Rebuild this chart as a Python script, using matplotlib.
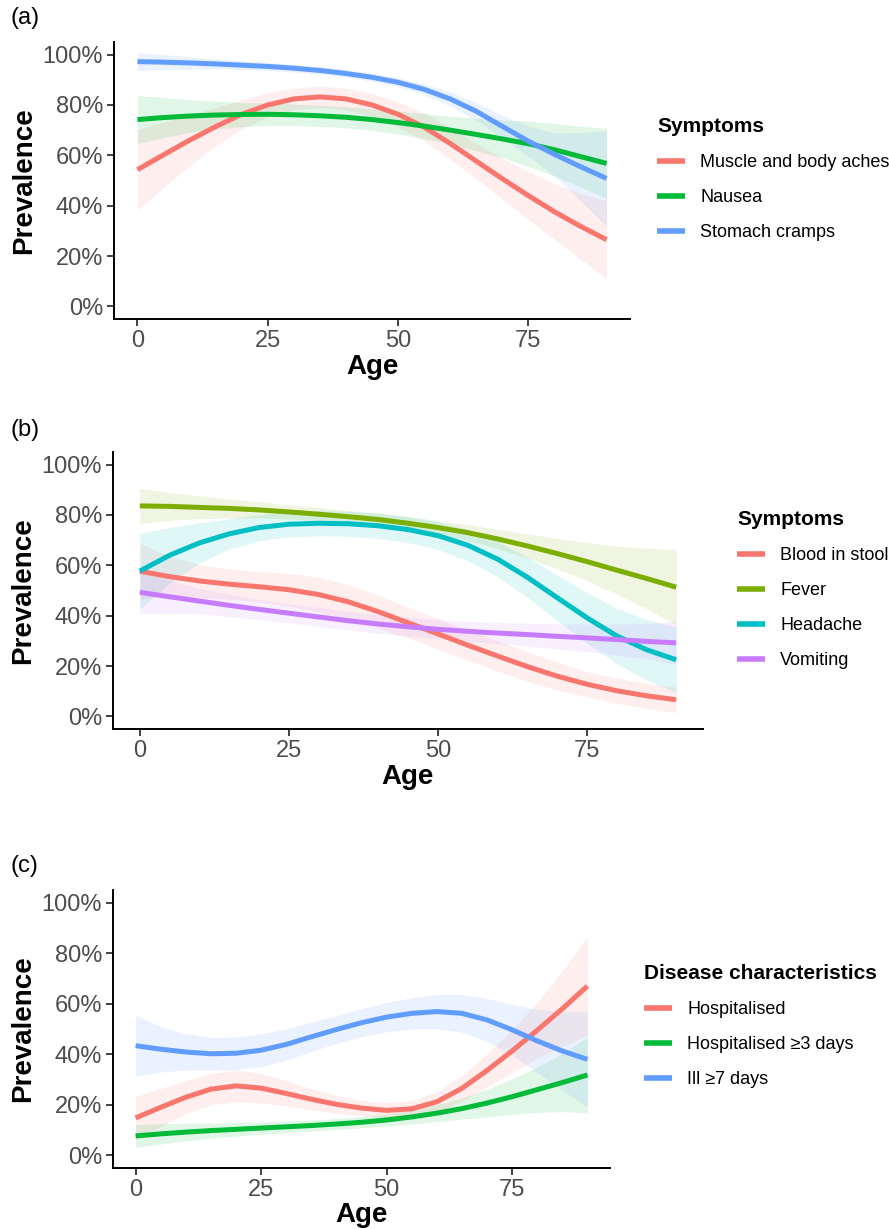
import numpy as np
import matplotlib
matplotlib.use("Agg")
import matplotlib.pyplot as plt

plt.rcParams["font.family"] = ["Liberation Sans", "DejaVu Sans"]

W, H = 889, 1229

# ── DATA (smoothed prevalence, every 5 years) ──
AGE = np.arange(0, 95, 5)

# (a) symptoms
A_NAMES = ["Muscle and body aches", "Nausea", "Stomach cramps"]
A_MUSCLE = [0.543, 0.602, 0.66, 0.714, 0.763, 0.80, 0.824, 0.832, 0.824, 0.80,
            0.763, 0.712, 0.647, 0.577, 0.507, 0.44, 0.376, 0.318, 0.265]
A_MUSCLE_SE = [0.16, 0.13, 0.10, 0.075, 0.058, 0.048, 0.043, 0.042, 0.043, 0.045,
               0.05, 0.055, 0.063, 0.07, 0.08, 0.095, 0.11, 0.13, 0.155]
A_NAUSEA = [0.742, 0.750, 0.756, 0.760, 0.762, 0.763, 0.761, 0.757, 0.751, 0.742,
            0.730, 0.716, 0.700, 0.683, 0.665, 0.646, 0.622, 0.595, 0.568]
A_NAUSEA_SE = [0.095, 0.08, 0.065, 0.055, 0.048, 0.045, 0.043, 0.042, 0.042, 0.043,
               0.045, 0.05, 0.055, 0.065, 0.075, 0.09, 0.105, 0.12, 0.14]
A_CRAMPS = [0.972, 0.970, 0.967, 0.963, 0.958, 0.953, 0.946, 0.937, 0.925, 0.91,
            0.89, 0.862, 0.824, 0.775, 0.715, 0.656, 0.604, 0.555, 0.508]
A_CRAMPS_SE = [0.035, 0.03, 0.025, 0.02, 0.018, 0.016, 0.015, 0.015, 0.015, 0.016,
               0.018, 0.022, 0.028, 0.035, 0.045, 0.06, 0.085, 0.135, 0.19]

# (b) symptoms
B_NAMES = ["Blood in stool", "Fever", "Headache", "Vomiting"]
B_BLOOD = [0.577, 0.555, 0.538, 0.525, 0.515, 0.503, 0.484, 0.455, 0.416, 0.372,
           0.328, 0.283, 0.24, 0.198, 0.16, 0.128, 0.102, 0.082, 0.066]
B_BLOOD_SE = [0.11, 0.08, 0.065, 0.06, 0.06, 0.065, 0.068, 0.068, 0.065, 0.06,
              0.06, 0.06, 0.06, 0.058, 0.055, 0.05, 0.05, 0.05, 0.05]
B_FEVER = [0.836, 0.834, 0.83, 0.826, 0.82, 0.812, 0.803, 0.793, 0.782, 0.767,
           0.75, 0.73, 0.705, 0.677, 0.647, 0.615, 0.581, 0.548, 0.513]
B_FEVER_SE = [0.07, 0.055, 0.045, 0.038, 0.032, 0.028, 0.026, 0.025, 0.025, 0.026,
              0.028, 0.032, 0.038, 0.048, 0.06, 0.075, 0.095, 0.12, 0.15]
B_HEAD = [0.577, 0.64, 0.689, 0.725, 0.75, 0.763, 0.767, 0.765, 0.757, 0.742,
          0.718, 0.68, 0.625, 0.553, 0.472, 0.392, 0.32, 0.265, 0.225]
B_HEAD_SE = [0.15, 0.11, 0.08, 0.06, 0.052, 0.05, 0.05, 0.05, 0.05, 0.052,
             0.055, 0.062, 0.07, 0.08, 0.09, 0.10, 0.11, 0.12, 0.13]
B_VOMIT = [0.493, 0.475, 0.458, 0.441, 0.425, 0.41, 0.395, 0.38, 0.367, 0.356,
           0.346, 0.338, 0.331, 0.325, 0.318, 0.312, 0.305, 0.298, 0.292]
B_VOMIT_SE = [0.085, 0.065, 0.05, 0.045, 0.04, 0.038, 0.037, 0.037, 0.037, 0.037,
              0.038, 0.04, 0.042, 0.045, 0.05, 0.055, 0.062, 0.07, 0.085]

# (c) disease characteristics
C_NAMES = ["Hospitalised", "Hospitalised \u22653 days", "Ill \u22657 days"]
C_HOSP = [0.148, 0.19, 0.23, 0.262, 0.275, 0.266, 0.245, 0.222, 0.202, 0.187,
          0.178, 0.184, 0.212, 0.265, 0.336, 0.413, 0.495, 0.58, 0.67]
C_HOSP_SE = [0.085, 0.075, 0.065, 0.062, 0.063, 0.058, 0.05, 0.042, 0.035, 0.03,
             0.03, 0.033, 0.04, 0.05, 0.065, 0.085, 0.11, 0.15, 0.195]
C_HOSP3 = [0.077, 0.085, 0.092, 0.098, 0.103, 0.108, 0.113, 0.118, 0.124, 0.131,
           0.14, 0.152, 0.167, 0.185, 0.207, 0.232, 0.26, 0.288, 0.318]
C_HOSP3_SE = [0.045, 0.04, 0.035, 0.03, 0.027, 0.025, 0.023, 0.022, 0.022, 0.022,
              0.024, 0.028, 0.034, 0.042, 0.055, 0.07, 0.09, 0.115, 0.15]
C_ILL7 = [0.434, 0.42, 0.409, 0.402, 0.404, 0.416, 0.439, 0.469, 0.498, 0.525,
          0.547, 0.562, 0.569, 0.562, 0.536, 0.497, 0.453, 0.413, 0.38]
C_ILL7_SE = [0.12, 0.09, 0.072, 0.065, 0.065, 0.065, 0.062, 0.058, 0.055, 0.055,
             0.058, 0.062, 0.068, 0.075, 0.085, 0.10, 0.125, 0.155, 0.19]

HUE3 = ["#F8766D", "#00BA38", "#619CFF"]
HUE4 = ["#F8766D", "#7CAE00", "#00BFC4", "#C77CFF"]

YTICKS = [0, 0.2, 0.4, 0.6, 0.8, 1.0]
YLABELS = ["0%", "20%", "40%", "60%", "80%", "100%"]
XTICKS = [0, 25, 50, 75]


def rect(l, r, t, b):
    return [l / W, 1 - b / H, (r - l) / W, (b - t) / H]


def panel(fig, box, tag, tag_y, names, colors, fits, ses, title, leg_x, leg_y):
    ax = fig.add_axes(rect(*box))
    for name, col, fit, se in zip(names, colors, fits, ses):
        fit = np.array(fit)
        se = np.array(se)
        ax.fill_between(AGE, fit - se, fit + se, color=col, alpha=0.12, lw=0)
    for name, col, fit in zip(names, colors, fits):
        ax.plot(AGE, fit, color=col, lw=3.6, label=name,
                solid_capstyle="butt", solid_joinstyle="round")

    ax.set_xlim(-4.5, 94.5)
    ax.set_ylim(-0.05, 1.05)
    ax.set_xticks(XTICKS)
    ax.set_yticks(YTICKS)
    ax.set_yticklabels(YLABELS)
    ax.tick_params(labelsize=17, labelcolor="#4D4D4D", length=5, width=1.3,
                   color="#333333", pad=3)
    for s in ["top", "right"]:
        ax.spines[s].set_visible(False)
    for s in ["left", "bottom"]:
        ax.spines[s].set_linewidth(1.4)
    ax.set_xlabel("Age", fontsize=20, fontweight="bold", labelpad=1)
    ax.set_ylabel("Prevalence", fontsize=20, fontweight="bold", labelpad=4)

    leg = ax.legend(loc="upper left", bbox_to_anchor=(leg_x / W, 1 - leg_y / H),
                    bbox_transform=fig.transFigure, frameon=False, fontsize=13,
                    title=title, title_fontproperties={"weight": "bold", "size": 15},
                    handlelength=1.55, handletextpad=0.85, labelspacing=1.0,
                    borderpad=0, borderaxespad=0, alignment="left")
    for h in leg.legend_handles:
        h.set_linewidth(4)

    fig.text(10 / W, 1 - tag_y / H, tag, fontsize=17, va="center", ha="left")
    return ax


fig = plt.figure(figsize=(W / 100, H / 100), dpi=100)

panel(fig, (114, 630, 42, 319), "(a)", 18, A_NAMES, HUE3,
      [A_MUSCLE, A_NAUSEA, A_CRAMPS], [A_MUSCLE_SE, A_NAUSEA_SE, A_CRAMPS_SE],
      "Symptoms", 657, 117)

panel(fig, (113, 703, 452, 729), "(b)", 430, B_NAMES, HUE4,
      [B_BLOOD, B_FEVER, B_HEAD, B_VOMIT],
      [B_BLOOD_SE, B_FEVER_SE, B_HEAD_SE, B_VOMIT_SE],
      "Symptoms", 737, 510)

panel(fig, (113, 610, 890, 1168), "(c)", 866, C_NAMES, HUE3,
      [C_HOSP, C_HOSP3, C_ILL7], [C_HOSP_SE, C_HOSP3_SE, C_ILL7_SE],
      "Disease characteristics", 644, 964)

plt.savefig("out.png", dpi=100, facecolor="white")
